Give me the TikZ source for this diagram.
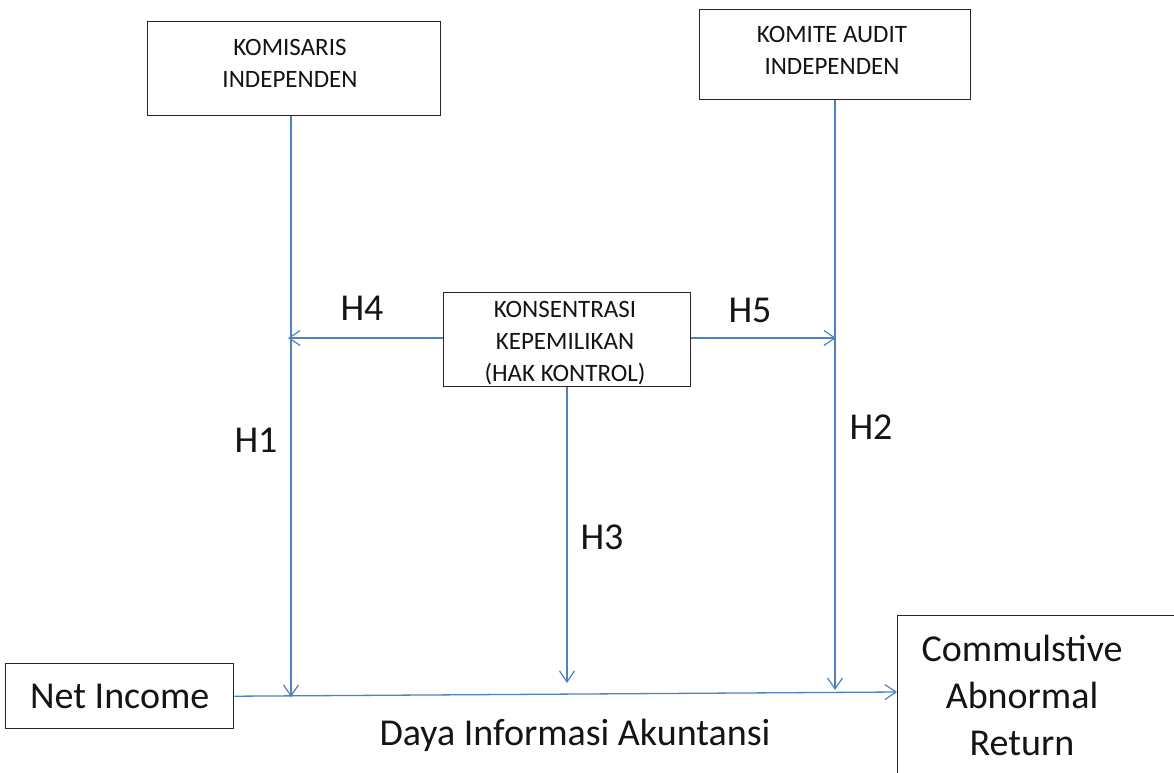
\documentclass[tikz,border=0pt]{standalone}
\usepackage{fontspec}
\setmainfont{Carlito}
\usetikzlibrary{arrows.meta}
\definecolor{lineblue}{RGB}{79,129,189}
\definecolor{txt}{RGB}{20,20,20}
\tikzset{
  x=1pt, y=-1pt,
  box/.style={draw=black!85, line width=1.4pt, fill=white, inner sep=0pt, text=txt},
  conn/.style={draw=lineblue, line width=1.3pt, -{Straight Barb[length=11pt,width=15pt,line width=1.2pt]}},
  lbl/.style={font=\fontsize{38}{44}\selectfont, text=txt, inner sep=0pt},
  small/.style={font=\fontsize{25}{32}\selectfont, align=center, text=txt},
}
\begin{document}
\begin{tikzpicture}
\useasboundingbox (0,0) rectangle (1174,772);
% boxes
\node[box, minimum width=293pt, minimum height=94pt, anchor=north west] (kom) at (147,21) {};
\node[small] (komt) at (290,63) {KOMISARIS\\INDEPENDEN};
\node[box, minimum width=271pt, minimum height=90pt, anchor=north west] (aud) at (699,9) {};
\node[small] (audt) at (832,50) {KOMITE AUDIT\\INDEPENDEN};
\node[box, minimum width=247pt, minimum height=94pt, anchor=north west] (kon) at (443,292) {};
\node[small] (kont) at (565,343) {KONSENTRASI\\KEPEMILIKAN\\(HAK KONTROL)};
\node[box, minimum width=228pt, minimum height=65pt, anchor=north west, font=\fontsize{38}{44}\selectfont] (ni) at (5,663) {Net Income};
\node[box, minimum width=290pt, minimum height=170pt, anchor=north west] (car) at (897,615) {};
\node[text=txt, font=\fontsize{38}{47}\selectfont, align=center] (cart) at (1022,695) {Commulstive\\Abnormal\\Return};
% coordinates
\coordinate (a1) at (291,697);
\coordinate (a2) at (835,690);
\coordinate (a3) at (567,683);
\coordinate (h4e) at (288,338);
\coordinate (h5e) at (836,338);
\coordinate (cin) at (895,692);
% connectors
\draw[conn] (kom.south -| a1) -- (a1);
\draw[conn] (aud.south -| a2) -- (a2);
\draw[conn] (kon.south -| a3) -- (a3);
\draw[conn] (kon.west |- h4e) -- (h4e);
\draw[conn] (kon.east |- h5e) -- (h5e);
\draw[conn] (ni.east) -- (car.west |- cin);
% labels
\node[lbl] (h4) at (362,308) {H4};
\node[lbl] (h5) at (750,310) {H5};
\node[lbl] (h1) at (256,440) {H1};
\node[lbl] (h2) at (871,427) {H2};
\node[lbl] (h3) at (602,537) {H3};
\node[lbl] (dia) at (575,735) {Daya Informasi Akuntansi};
\end{tikzpicture}
\end{document}
